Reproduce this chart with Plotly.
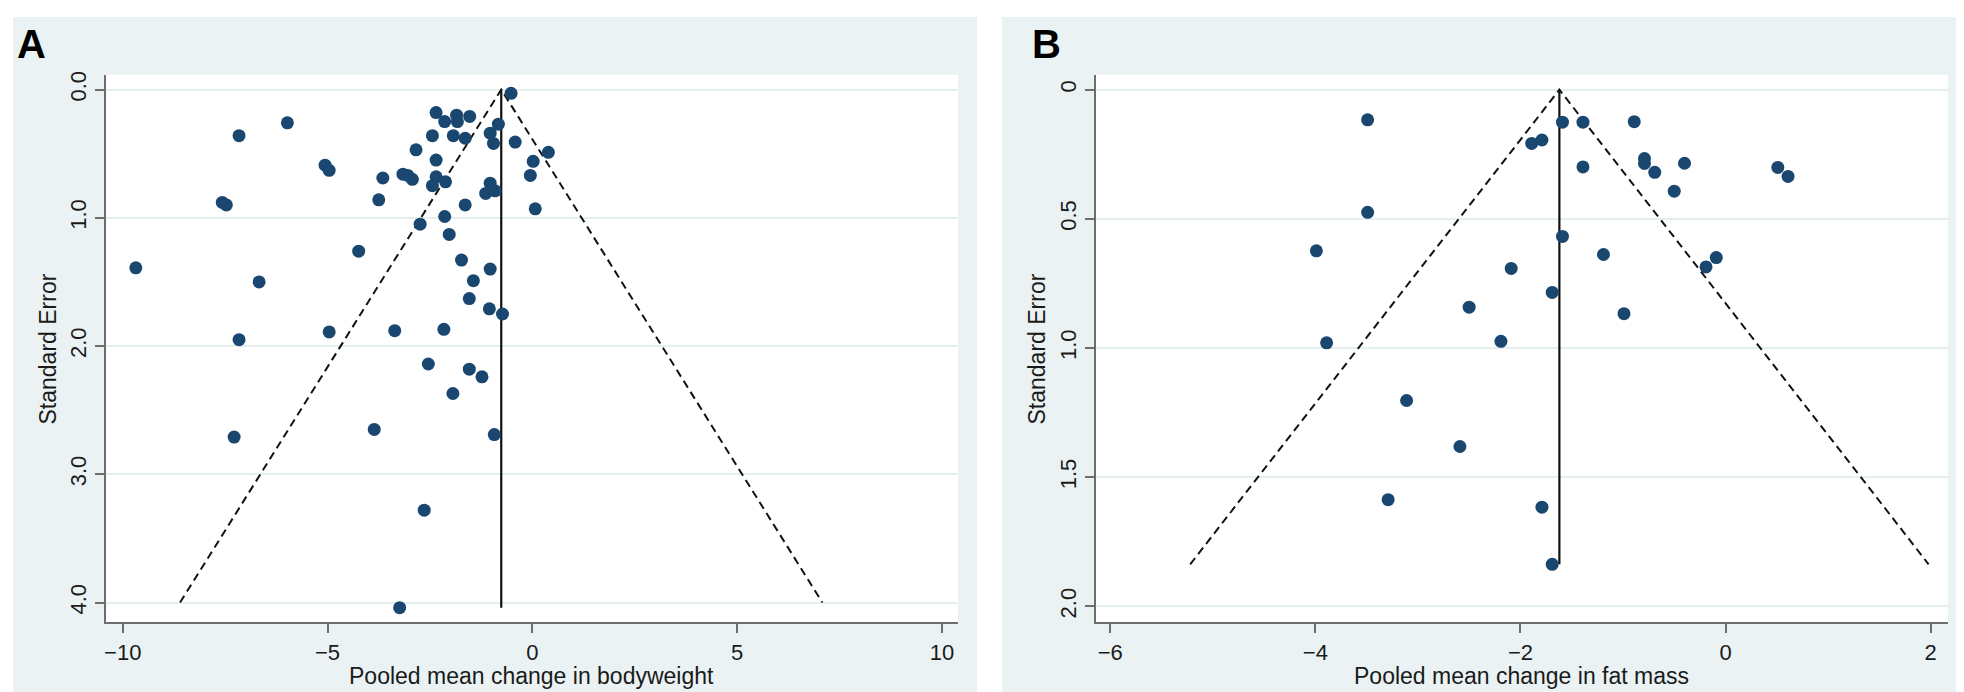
import plotly.graph_objects as go

# ---------------- data ----------------
# Panel A: pooled mean change in bodyweight vs standard error
A_effect = [-5.98, -7.16, -5.06, -4.96, -7.57, -7.47, -9.68, -6.67, -7.16, -4.96,
            -2.54, -1.54, -1.23, -1.94, -7.28, -3.86, -0.93, -2.64, -3.24,
            -0.52, -2.35, -2.14, -1.85, -1.83, -1.53, -0.83, -1.03, -0.95, -2.44,
            -1.93, -1.64, -0.42, 0.39, 0.02, -0.05, 0.07, -2.84, -2.35, -3.65,
            -3.16, -3.04, -2.93, -2.35, -2.44, -2.12, -1.03, -1.14, -0.91, -3.75,
            -1.64, -2.14, -2.74, -2.03, -4.24, -1.73, -1.03,
            -1.44, -1.54, -1.05, -0.73, -3.36, -2.16]
A_se = [0.26, 0.36, 0.59, 0.63, 0.88, 0.90, 1.39, 1.50, 1.95, 1.89,
        2.14, 2.18, 2.24, 2.37, 2.71, 2.65, 2.69, 3.28, 4.04,
        0.03, 0.18, 0.25, 0.20, 0.25, 0.21, 0.27, 0.34, 0.42, 0.36,
        0.36, 0.38, 0.41, 0.49, 0.56, 0.67, 0.93, 0.47, 0.55, 0.69,
        0.66, 0.67, 0.70, 0.68, 0.75, 0.72, 0.73, 0.81, 0.79, 0.86,
        0.90, 0.99, 1.05, 1.13, 1.26, 1.33, 1.40,
        1.49, 1.63, 1.71, 1.75, 1.88, 1.87]
A_pooled = -0.76
A_funnel_se = 4.0

# Panel B: pooled mean change in fat mass vs standard error
B_effect = [-3.49, -3.49, -3.99, -3.89,
            -1.59, -1.39, -0.89, -1.89, -1.79, -1.39, -0.79, -0.79, -0.69, -0.40,
            -0.50, 0.51, 0.61, -1.59, -1.19, -0.09, -0.19, -2.09, -1.69, -2.50,
            -0.99, -2.19,
            -3.11, -3.29, -2.59, -1.79, -1.69]
B_se = [0.117, 0.475, 0.624, 0.98,
        0.126, 0.126, 0.124, 0.208, 0.195, 0.299, 0.267, 0.286, 0.320, 0.285,
        0.393, 0.301, 0.336, 0.568, 0.638, 0.650, 0.686, 0.692, 0.785, 0.842,
        0.867, 0.974,
        1.203, 1.587, 1.381, 1.616, 1.837]
B_pooled = -1.62
B_funnel_se = 1.837

A_xticks = [-10, -5, 0, 5, 10]
A_yticks = [0, 1, 2, 3, 4]
A_yticktext = ["0.0", "1.0", "2.0", "3.0", "4.0"]
B_xticks = [-6, -4, -2, 0, 2]
B_yticks = [0, 0.5, 1, 1.5, 2]
B_yticktext = ["0", "0.5", "1.0", "1.5", "2.0"]

# ---------------- styling ----------------
W, H = 1964, 692
NAVY = "#1a476f"
PANEL_BG = "#eaf2f3"
GRID = "#e6eff0"
AXIS = "#6e6e6e"
TXT = "#1a1a1a"
FONT = "Liberation Sans"


def px(x):
    return x / W


def py(y):
    return 1 - y / H


fig = go.Figure()


def add_panel(effect, se, pooled, fse, xa, ya):
    fig.add_trace(go.Scatter(
        x=[pooled - 1.96 * fse, pooled, pooled + 1.96 * fse],
        y=[fse, 0, fse], mode="lines",
        line=dict(color="#111111", width=2, dash="8px,5px"),
        xaxis=xa, yaxis=ya, showlegend=False, hoverinfo="skip"))
    fig.add_trace(go.Scatter(
        x=[pooled, pooled], y=[0, max(se)], mode="lines",
        line=dict(color="#111111", width=2.2),
        xaxis=xa, yaxis=ya, showlegend=False, hoverinfo="skip"))
    fig.add_trace(go.Scatter(
        x=effect, y=se, mode="markers",
        marker=dict(color=NAVY, size=13, line=dict(width=0)),
        xaxis=xa, yaxis=ya, showlegend=False))


add_panel(A_effect, A_se, A_pooled, A_funnel_se, "x", "y")
add_panel(B_effect, B_se, B_pooled, B_funnel_se, "x2", "y2")

# plot area pixel boxes
A_box = (96, 949, 63, 614)
B_box = (1087, 1940, 63, 614)

common_x = dict(showgrid=False, zeroline=False, showline=True, linecolor=AXIS,
                linewidth=2, ticks="outside", ticklen=9, tickwidth=2,
                tickcolor=AXIS, tickfont=dict(family=FONT, size=22, color=TXT))
common_y = dict(showgrid=True, gridcolor=GRID, gridwidth=2, zeroline=False,
                showline=True, linecolor=AXIS, linewidth=2, ticks="outside",
                ticklen=9, tickwidth=2, tickcolor=AXIS, tickangle=-90,
                tickfont=dict(family=FONT, size=22, color=TXT))

fig.update_layout(
    width=W, height=H, margin=dict(l=0, r=0, t=0, b=0),
    paper_bgcolor="white", plot_bgcolor="white",
    xaxis=dict(domain=[px(A_box[0]), px(A_box[1])], range=[-10.41, 10.39],
               tickvals=A_xticks, anchor="y", **common_x),
    yaxis=dict(domain=[py(A_box[3]), py(A_box[2])], range=[4.155, -0.116],
               tickvals=A_yticks, ticktext=A_yticktext, anchor="x", **common_y),
    xaxis2=dict(domain=[px(B_box[0]), px(B_box[1])], range=[-6.14, 2.17],
                tickvals=B_xticks, anchor="y2", **common_x),
    yaxis2=dict(domain=[py(B_box[3]), py(B_box[2])], range=[2.062, -0.058],
                tickvals=B_yticks, ticktext=B_yticktext, anchor="x2", **common_y),
)

shapes = []
for (x0, x1) in [(3, 968), (993, 1958)]:
    shapes.append(dict(type="rect", xref="paper", yref="paper", layer="below",
                       x0=px(x0), x1=px(x1), y0=py(687), y1=py(5),
                       fillcolor=PANEL_BG, line=dict(width=0)))
for b in (A_box, B_box):
    shapes.append(dict(type="rect", xref="paper", yref="paper", layer="below",
                       x0=px(b[0]), x1=px(b[1]), y0=py(b[3]), y1=py(b[2]),
                       fillcolor="white", line=dict(width=0)))
fig.update_layout(shapes=shapes)

ann = [dict(text="<b>A</b>", x=px(5), y=py(8), xanchor="left", yanchor="top",
            font=dict(family=FONT, size=40, color="black"), showarrow=False,
            xref="paper", yref="paper"),
       dict(text="<b>B</b>", x=px(1021), y=py(8), xanchor="left", yanchor="top",
            font=dict(family=FONT, size=40, color="black"), showarrow=False,
            xref="paper", yref="paper")]
for (cx, title) in [((A_box[0] + A_box[1]) / 2, "Pooled mean change in bodyweight"),
                    ((B_box[0] + B_box[1]) / 2, "Pooled mean change in fat mass")]:
    ann.append(dict(text=title, x=px(cx), y=py(668), xanchor="center", yanchor="middle",
                    font=dict(family=FONT, size=23, color=TXT), showarrow=False,
                    xref="paper", yref="paper"))
for cx in (38, 1028):
    ann.append(dict(text="Standard Error", x=px(cx), y=py(338.5), xanchor="center",
                    yanchor="middle", textangle=-90,
                    font=dict(family=FONT, size=23, color=TXT), showarrow=False,
                    xref="paper", yref="paper"))
fig.update_layout(annotations=ann)

fig.write_html("out.html")
